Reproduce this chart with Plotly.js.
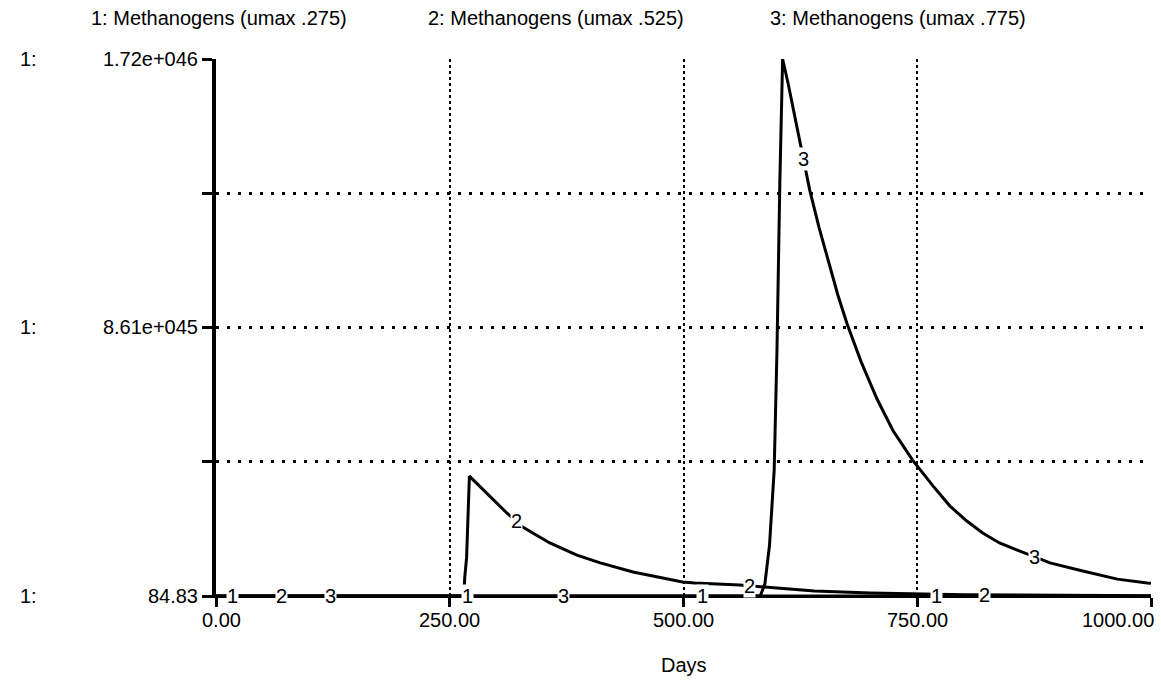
<!DOCTYPE html>
<html>
<head>
<meta charset="utf-8">
<script src="https://cdn.plot.ly/plotly-3.0.1.min.js"></script>
<style>html,body{margin:0;padding:0;background:#fff;}#chart{width:1161px;height:691px;}</style>
</head>
<body>
<div id="chart"></div>
<script>
// ---- data ----
var seriesNames = ["1: Methanogens (umax .275)", "2: Methanogens (umax .525)", "3: Methanogens (umax .775)"];

var days1 = [0, 250, 500, 750, 1000];
var vals1 = [84.83, 84.83, 84.83, 84.83, 84.83];

var days2 = [0, 265, 266, 268, 271, 311, 328, 357, 386, 411, 446, 472, 499, 512, 560, 600, 640, 700, 800, 1000];
var vals2 = [84.83, 84.83, 5.8e44, 1.22e45, 3.84e45, 2.66e45, 2.21e45, 1.70e45, 1.31e45, 1.06e45, 7.7e44, 6.1e44, 4.5e44, 4.2e44, 3.5e44, 2.6e44, 1.6e44, 1.0e44, 4e43, 1e43];

var days3 = [0, 582, 587, 592, 597, 600, 603, 606, 612, 617, 626, 635, 645, 655, 665, 675, 690, 707, 724, 745, 767, 785, 803, 820, 838, 857, 875, 892, 927, 964, 996, 1000];
var vals3 = [84.83, 84.83, 3.8e44, 1.63e45, 4.04e45, 7.91e45, 1.32e46, 1.72e46, 1.64e46, 1.567e46, 1.43e46, 1.30e46, 1.18e46, 1.07e46, 9.65e45, 8.71e45, 7.5e45, 6.31e45, 5.3e45, 4.35e45, 3.52e45, 2.88e45, 2.40e45, 2.02e45, 1.70e45, 1.47e45, 1.25e45, 1.06e45, 8.0e44, 5.4e44, 4.2e44, 4.1e44];

// where the series number labels sit along each line (days)
var labelDays1 = [18, 269, 520, 771];
var labelDays2 = [70, 321, 571, 822];
var labelDays3 = [122, 372, 628, 875];

var xTickVals = [0, 250, 500, 750, 1000];
var xTickText = ["0.00", "250.00", "500.00", "750.00", "1000.00"];
var yTickVals = [84.83, 4.3e45, 8.61e45, 1.29e46, 1.72e46];
var yTickText = ["84.83", "", "8.61e+045", "", "1.72e+046"];
var yLabelVals = [84.83, 8.61e45, 1.72e46];
var xTitle = "Days";

// ---- helpers ----
function interp(xs, ys, x) {
  for (var i = 0; i < xs.length - 1; i++) {
    if (x >= xs[i] && x <= xs[i + 1]) {
      var t = (x - xs[i]) / (xs[i + 1] - xs[i]);
      return ys[i] + t * (ys[i + 1] - ys[i]);
    }
  }
  return ys[ys.length - 1];
}
var L = 216, R = 10, T = 59, B = 95, W = 1161, H = 691;
var pw = W - L - R, ph = H - T - B;
function px2paperX(px) { return (px - L) / pw; }

var FONT = "Liberation Sans, Arial, sans-serif";
var FS = 20;

var lineStyle = {color: "#000", width: 3};
var traces = [
  {x: days1, y: vals1, mode: "lines", line: lineStyle, name: seriesNames[0], hoverinfo: "skip"},
  {x: days2, y: vals2, mode: "lines", line: lineStyle, name: seriesNames[1], hoverinfo: "skip"},
  {x: days3, y: vals3, mode: "lines", line: lineStyle, name: seriesNames[2], hoverinfo: "skip"}
];

var ann = [];
// top series titles
var titleCenters = [219, 556, 898];
seriesNames.forEach(function (n, i) {
  ann.push({text: n, xref: "paper", yref: "paper", x: px2paperX(titleCenters[i]), y: 1, yshift: 41,
    xanchor: "center", yanchor: "middle", showarrow: false, font: {size: FS, color: "#000", family: FONT}});
});
// "1:" scale markers
yLabelVals.forEach(function (v) {
  ann.push({text: "1:", xref: "paper", yref: "y", x: px2paperX(28), y: v, xanchor: "center", yanchor: "middle",
    showarrow: false, font: {size: FS, color: "#000", family: FONT}});
});
// x tick labels
xTickVals.forEach(function (v, i) {
  var last = i === xTickVals.length - 1;
  ann.push({text: xTickText[i], xref: "x", yref: "paper", x: v, y: 0, yshift: -24,
    xanchor: last ? "right" : "center", xshift: last ? 5 : (i === 0 ? 5 : 0), yanchor: "middle",
    showarrow: false, font: {size: FS, color: "#000", family: FONT}});
});
// axis title
ann.push({text: xTitle, xref: "x", yref: "paper", x: 500, y: 0, yshift: -69, xanchor: "center", yanchor: "middle",
  showarrow: false, font: {size: FS, color: "#000", family: FONT}});
// series number labels on the lines
[[labelDays1, days1, vals1, "1"], [labelDays2, days2, vals2, "2"], [labelDays3, days3, vals3, "3"]].forEach(function (s) {
  s[0].forEach(function (d) {
    ann.push({text: s[3], xref: "x", yref: "y", x: d, y: interp(s[1], s[2], d), xanchor: "center", yanchor: "middle",
      showarrow: false, bgcolor: "#fff", borderpad: 0, font: {size: FS, color: "#000", family: FONT}});
  });
});

var layout = {
  width: W, height: H,
  margin: {l: L, r: R, t: T, b: B, pad: 0},
  paper_bgcolor: "#fff", plot_bgcolor: "#fff",
  showlegend: false,
  font: {family: FONT, size: FS, color: "#000"},
  xaxis: {
    range: [0, 1000], tickvals: xTickVals, ticktext: xTickText, showticklabels: false,
    ticks: "outside", ticklen: 9, tickwidth: 3, tickcolor: "#000",
    showgrid: true, gridcolor: "#000", gridwidth: 2, griddash: "3px,3px",
    zeroline: false, showline: true, linecolor: "#000", linewidth: 2, fixedrange: true
  },
  yaxis: {
    range: [0, 1.72e46], tickvals: yTickVals, ticktext: yTickText,
    ticks: "outside", ticklen: 10, tickwidth: 3, tickcolor: "#000",
    tickfont: {size: FS, family: FONT, color: "#000"},
    showgrid: true, gridcolor: "#000", gridwidth: 3, griddash: "3px,8px",
    zeroline: false, showline: true, linecolor: "#000", linewidth: 4, fixedrange: true
  },
  annotations: ann
};

Plotly.newPlot("chart", traces, layout, {staticPlot: true, displayModeBar: false});
</script>
</body>
</html>
